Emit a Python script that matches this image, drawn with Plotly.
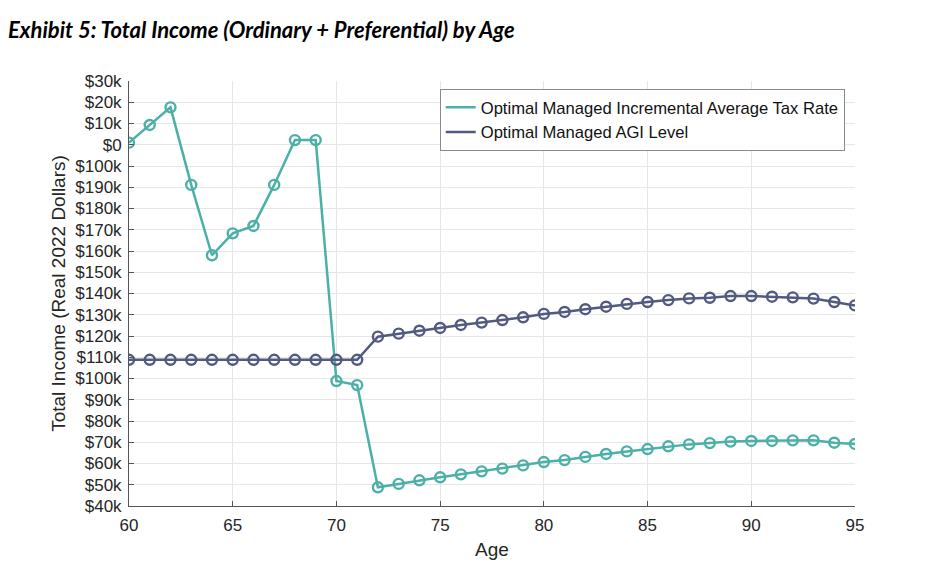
import plotly.graph_objects as go

ages = list(range(60, 96))
tax_rate_series = [211.0, 219.3, 227.6, 191.1, 158.0, 168.3, 171.8, 191.1, 212.2, 212.2,
                   98.8, 96.9, 48.8, 50.4, 52.1, 53.5, 54.9, 56.3, 57.6, 59.1,
                   60.7, 61.6, 63.1, 64.5, 65.7, 66.8, 68.1, 69.0, 69.6, 70.3,
                   70.6, 70.6, 70.9, 70.9, 69.8, 69.2]
agi_series = [108.8] * 12 + [119.7, 121.1, 122.5, 123.8, 125.2, 126.3, 127.5, 128.8,
                             130.4, 131.3, 132.6, 133.8, 135.1, 136.0, 136.9, 137.7,
                             138.0, 138.8, 138.8, 138.5, 138.2, 137.6, 136.0, 134.4]
ytick_vals = list(range(40000, 250000, 10000))
ytick_text = ["$40k", "$50k", "$60k", "$70k", "$80k", "$90k", "$100k", "$110k", "$120k",
              "$130k", "$140k", "$150k", "$160k", "$170k", "$180k", "$190k", "$100k",
              "$0", "$10k", "$20k", "$30k"]
xtick_vals = [60, 65, 70, 75, 80, 85, 90, 95]
names = ["Optimal Managed Incremental Average Tax Rate", "Optimal Managed AGI Level"]

teal = "#4cb0a7"
navy = "#525a80"

fig = go.Figure()
for vals, color in [(tax_rate_series, teal), (agi_series, navy)]:
    fig.add_trace(go.Scatter(
        x=ages, y=[v * 1000 for v in vals], mode="lines+markers",
        line=dict(color=color, width=2.5),
        marker=dict(symbol="circle-open", size=10, color=color, line=dict(width=2.4)),
        showlegend=False, hoverinfo="x+y"))
for name, color in zip(names, [teal, navy]):
    fig.add_trace(go.Scatter(x=[None], y=[None], mode="lines", name=name,
                             line=dict(color=color, width=2.5)))

fig.update_layout(
    width=920, height=560,
    margin=dict(l=121, r=73, t=73, b=62, autoexpand=False),
    paper_bgcolor="white", plot_bgcolor="white",
    font=dict(family="Liberation Sans, Arial", color="#262626"),
    title=dict(text="<b><i>Exhibit 5: Total Income (Ordinary + Preferential) by Age</i></b>",
               x=0.0, xanchor="left", y=0.961, yanchor="middle",
               font=dict(family="Lato, Carlito, Calibri", size=22, color="black")),
    legend=dict(x=0.428, y=0.981, xanchor="left", yanchor="top",
                bgcolor="white", bordercolor="#8a8a8a", borderwidth=1,
                font=dict(size=16.6, color="#111"), tracegroupgap=0,
                itemwidth=30),
    xaxis=dict(range=[60, 95], tickvals=xtick_vals, ticks="inside", ticklen=5,
               tickcolor="#555", showline=True, linecolor="#555", linewidth=1,
               showgrid=True, gridcolor="#e6e6e6", zeroline=False, automargin=False,
               ticklabelstandoff=4,
               tickfont=dict(size=17), title=dict(text="Age", font=dict(size=19), standoff=8)),
    yaxis=dict(range=[40000, 240000], tickvals=ytick_vals, ticktext=ytick_text,
               ticks="inside", ticklen=5, tickcolor="#555",
               showline=True, linecolor="#555", linewidth=1,
               showgrid=True, gridcolor="#e6e6e6", zeroline=False, automargin=False,
               ticklabelstandoff=3,
               tickfont=dict(size=17),
               title=dict(text="Total Income (Real 2022 Dollars)", font=dict(size=19), standoff=4)),
)
fig.write_html("out.html")
